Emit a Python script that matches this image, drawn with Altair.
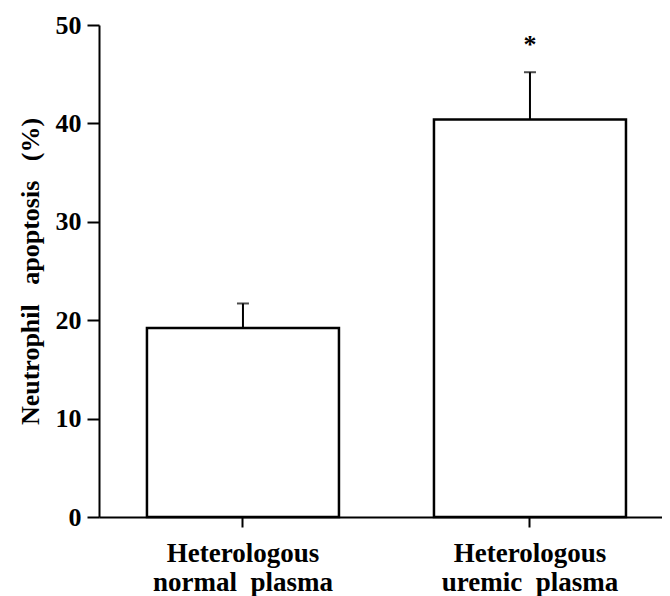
import altair as alt
import pandas as pd

categories = ["Heterologous normal plasma", "Heterologous uremic plasma"]
means = [19.2, 40.4]
errors = [2.5, 4.8]
sig_marks = ["", "*"]
y_ticks = [0, 10, 20, 30, 40, 50]

df = pd.DataFrame({"group": categories, "mean": means, "err": errors, "sig": sig_marks})
df["upper"] = df["mean"] + df["err"]

FONT = "Liberation Serif"

label_expr = ("[slice(datum.label, 0, indexof(datum.label, ' ')), "
              "replace(slice(datum.label, indexof(datum.label, ' ') + 1), ' ', '\u00a0\u00a0')]")

x = alt.X(
    "group:N",
    sort=categories,
    scale=alt.Scale(paddingInner=0.331, paddingOuter=0.1463, align=0.571),
    axis=alt.Axis(
        title=None, labelAngle=0, labelExpr=label_expr, labelLimit=0,
        labelFont=FONT, labelFontSize=27, labelFontWeight="bold", labelColor="black",
        labelPadding=13, labelLineHeight=29, labelBaseline="top",
        tickSize=10, tickWidth=2, tickColor="black",
        domainWidth=2, domainColor="black",
    ),
)

y_axis = alt.Axis(
    values=y_ticks, grid=False,
    title="Neutrophil\u00a0\u00a0\u00a0apoptosis\u00a0\u00a0\u00a0(%)",
    titleFont=FONT, titleFontSize=26, titleFontWeight="bold", titleColor="black",
    titlePadding=12,
    labelFont=FONT, labelFontSize=26, labelFontWeight="bold", labelColor="black",
    labelPadding=6, tickSize=12, tickWidth=2, tickColor="black",
    domainWidth=2, domainColor="black",
)
y_scale = alt.Scale(domain=[0, 50], nice=False)

base = alt.Chart(df)

bars = base.mark_bar(fill="white", stroke="black", strokeWidth=2.5).encode(
    x=x, y=alt.Y("mean:Q", scale=y_scale, axis=y_axis)
)
rules = base.mark_rule(color="black", strokeWidth=2).encode(
    x=x, y=alt.Y("mean:Q", scale=y_scale, axis=y_axis), y2="upper:Q"
)
caps = base.mark_tick(color="black", thickness=2, size=12, orient="horizontal").encode(
    x=x, y=alt.Y("upper:Q", scale=y_scale, axis=y_axis)
)
stars = base.mark_text(font=FONT, fontSize=26, fontWeight="bold", color="black",
                       baseline="alphabetic", dy=-19).encode(
    x=x, y=alt.Y("upper:Q", scale=y_scale, axis=y_axis), text="sig:N"
)

chart = (
    alt.layer(bars, rules, caps, stars)
    .properties(
        width=563, height=492,
        autosize=alt.AutoSizeParams(type="none"),
        padding={"left": 91, "top": 17, "right": 0, "bottom": 80},
        background="white",
    )
    .configure_view(stroke=None)
)

chart.save("out.html", embed_options={"renderer": "svg", "actions": False})
